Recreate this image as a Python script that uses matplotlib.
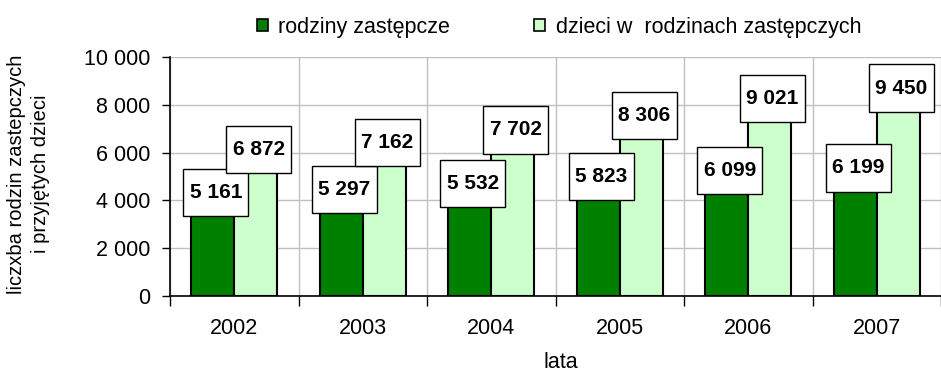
import matplotlib
matplotlib.use('Agg')
import matplotlib.pyplot as plt
import numpy as np
from matplotlib.patches import Patch
from matplotlib.path import Path

plt.rcParams['font.family'] = ['Liberation Sans', 'DejaVu Sans']

# data
years = ['2002', '2003', '2004', '2005', '2006', '2007']
rodziny = [5161, 5297, 5532, 5823, 6099, 6199]
dzieci = [6872, 7162, 7702, 8306, 9021, 9450]
series_names = ['rodziny zastępcze', 'dzieci w  rodzinach zastępczych']
dark_green = '#008000'
light_green = '#CCFFCC'


def fmt(v):
    return '{:,}'.format(int(v)).replace(',', ' ')


def label_box(x0, y0, width, height, mutation_size):
    # square box, wider padding vertically than horizontally
    px = 0.3 * mutation_size
    py = 0.68 * mutation_size
    x0, x1 = x0 - px, x0 + width + px
    y0, y1 = y0 - py, y0 + height + py
    return Path([(x0, y0), (x1, y0), (x1, y1), (x0, y1), (x0, y0)], closed=True)


fig = plt.figure(figsize=(9.41, 3.74), dpi=100)
ax = fig.add_axes([170 / 941, 1 - 296 / 374, 1 - 170 / 941, 239 / 374])

x = np.arange(len(years))
w = 1 / 3
b1 = ax.bar(x - w / 2, rodziny, w, color=dark_green, edgecolor='black', linewidth=1.5, zorder=3)
b2 = ax.bar(x + w / 2, dzieci, w, color=light_green, edgecolor='black', linewidth=1.5, zorder=3)

for bars, vals, dy in ((b1, rodziny, 2), (b2, dzieci, 4)):
    for rect, v in zip(bars, vals):
        ax.annotate(fmt(v), (rect.get_x() + rect.get_width() / 2, v),
                    xytext=(3, dy - 22), textcoords='offset pixels',
                    ha='center', va='center', fontsize=15, fontweight='bold',
                    zorder=5,
                    bbox=dict(boxstyle=label_box, facecolor='white',
                              edgecolor='black', linewidth=1))

xmin = -0.5
xmax = -0.5 + (941 - 169.5) / 130.4
ax.set_xlim(xmin, xmax)
ax.set_ylim(0, 10000)

fs = 15.5
ax.set_yticks(np.arange(0, 10001, 2000))
ax.set_yticklabels([fmt(v) for v in np.arange(0, 10001, 2000)], fontsize=fs)
ax.tick_params(axis='y', direction='out', length=6, width=1, pad=8)

ax.set_xticks(np.arange(-0.5, len(years), 1))
ax.set_xticklabels([])
ax.set_xticks(x, minor=True)
ax.set_xticklabels(years, minor=True, fontsize=fs)
ax.tick_params(axis='x', which='major', direction='out', length=7, width=1)
ax.tick_params(axis='x', which='minor', length=0, pad=16)

ax.grid(True, which='major', color='#c0c0c0', linewidth=1, zorder=0)
ax.set_axisbelow(True)
for s in ('top', 'right'):
    ax.spines[s].set_visible(False)
for s in ('left', 'bottom'):
    ax.spines[s].set_linewidth(1.2)

ax.set_xlabel('lata', fontsize=fs)
ax.xaxis.set_label_coords((2.5 - xmin) / (xmax - xmin), -0.235)
ax.set_ylabel('liczxba rodzin zastepczych\ni przyjętych dzieci', fontsize=14.5,
              linespacing=1.35)
ax.yaxis.set_label_coords(-0.155, 0.51)

handles = [Patch(facecolor=dark_green, edgecolor='black', linewidth=1.2),
           Patch(facecolor=light_green, edgecolor='black', linewidth=1.2)]
fig.legend(handles, series_names, loc='center', bbox_to_anchor=(559 / 941, 1 - 27 / 374),
           ncol=2, frameon=False, fontsize=fs, handlelength=0.5, handleheight=0.5,
           handletextpad=0.5, columnspacing=3.9)

fig.savefig('out.png', dpi=100)
